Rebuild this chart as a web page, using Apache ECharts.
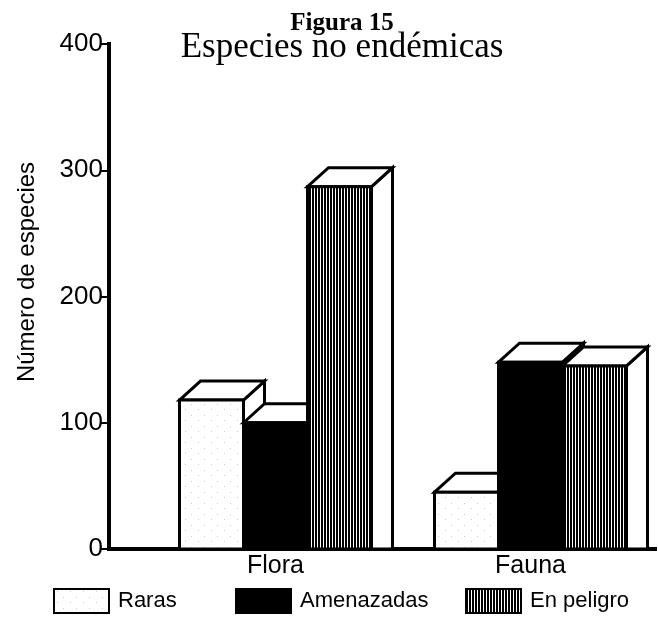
<!DOCTYPE html>
<html>
<head>
<meta charset="utf-8">
<script src="https://cdn.jsdelivr.net/npm/echarts@6/dist/echarts.min.js"></script>
<style>
  html, body { margin: 0; padding: 0; background: #fff; }
  #chart { width: 658px; height: 619px; }
</style>
</head>
<body>
<div id="chart"></div>
<script>
// Data
const categories = ['Flora', 'Fauna'];
const seriesNames = ['Raras', 'Amenazadas', 'En peligro'];
const raras = [118, 45];
const amenazadas = [100, 148];
const enPeligro = [287, 145];
const yTickStep = 100;
const yMax = 400;

const seriesValues = [raras, amenazadas, enPeligro];

// Fill patterns: faint stipple, solid black, vertical hatching
function makePattern(w, h, paint) {
  const c = document.createElement('canvas');
  c.width = w; c.height = h;
  paint(c.getContext('2d'), w, h);
  return c;
}
const stipple = makePattern(13, 11, (ctx, w, h) => {
  ctx.fillStyle = '#fff'; ctx.fillRect(0, 0, w, h);
  ctx.fillStyle = '#cccccc';
  ctx.fillRect(3, 2, 1, 1);
  ctx.fillRect(9, 8, 1, 1);
});
const stripes = makePattern(3, 4, (ctx, w, h) => {
  ctx.fillStyle = '#000'; ctx.fillRect(0, 0, w, h);
  ctx.fillStyle = '#fff'; ctx.fillRect(2, 0, 1, h);
});
const fills = [
  { image: stipple, repeat: 'repeat' },
  '#000',
  { image: stripes, repeat: 'repeat' }
];

// 3D bar geometry
const DEPTH_X = 21;
const DEPTH_Y = 19;
const BAR_FRAC = 0.251;
const EDGE = { stroke: '#000', lineWidth: 3, lineJoin: 'miter' };

function renderBar(params, api) {
  const cat = api.value(0);
  const base = api.coord([cat, 0]);
  const top = api.coord([cat, api.value(1)]);
  const w = api.size([1, 0])[0] * BAR_FRAC;
  const x0 = base[0] - 1.5 * w + params.seriesIndex * w;
  const x1 = x0 + w;
  const yT = top[1];
  const yB = base[1];
  return {
    type: 'group',
    children: [
      {
        type: 'polygon',
        shape: { points: [[x1, yT], [x1 + DEPTH_X, yT - DEPTH_Y], [x1 + DEPTH_X, yB], [x1, yB]] },
        style: Object.assign({ fill: '#fff' }, EDGE)
      },
      {
        type: 'polygon',
        shape: { points: [[x0, yT], [x0 + DEPTH_X, yT - DEPTH_Y], [x1 + DEPTH_X, yT - DEPTH_Y], [x1, yT]] },
        style: Object.assign({ fill: '#fff' }, EDGE)
      },
      {
        type: 'rect',
        shape: { x: x0, y: yT, width: w, height: yB - yT },
        style: Object.assign({ fill: fills[params.seriesIndex] }, EDGE)
      }
    ]
  };
}

const SANS = '"Liberation Sans", Arial, sans-serif';
const SERIF = '"Liberation Serif", "Times New Roman", serif';
const legendLeft = [48, 230, 460];

const chart = echarts.init(document.getElementById('chart'), null, { renderer: 'canvas' });

chart.setOption({
  backgroundColor: '#fff',
  animation: false,
  textStyle: { fontFamily: SANS, color: '#000' },
  grid: [
    { left: 148, right: 0, top: 44, bottom: 70 },
    { left: 109, right: 3, top: 44, bottom: 70 }
  ],
  xAxis: [
    {
      gridIndex: 0,
      type: 'category',
      data: categories,
      axisLine: { show: false },
      axisTick: { show: false },
      axisLabel: { fontFamily: SANS, fontSize: 25, color: '#000', margin: 5 }
    },
    {
      gridIndex: 1,
      type: 'value',
      min: 0,
      max: 1,
      axisLine: { show: true, lineStyle: { color: '#000', width: 4, cap: 'square' } },
      axisTick: { show: false },
      axisLabel: { show: false },
      splitLine: { show: false }
    }
  ],
  yAxis: [
    { gridIndex: 0, type: 'value', min: 0, max: yMax, show: false, splitLine: { show: false } },
    {
      gridIndex: 1,
      type: 'value',
      min: 0,
      max: yMax,
      interval: yTickStep,
      axisLine: { show: true, lineStyle: { color: '#000', width: 4, cap: 'square' } },
      axisTick: { show: true, length: 9, lineStyle: { color: '#000', width: 2 } },
      axisLabel: { fontFamily: SANS, fontSize: 26, color: '#000', margin: 6 },
      splitLine: { show: false }
    }
  ],
  legend: seriesNames.map((name, i) => ({
    data: [name],
    left: legendLeft[i],
    top: 583,
    icon: 'rect',
    itemWidth: 55,
    itemHeight: 24,
    selectedMode: false,
    textStyle: { fontFamily: SANS, fontSize: 22, color: '#000', padding: [0, 0, 0, 4] }
  })),
  graphic: [
    {
      type: 'text', x: 342, y: 11,
      style: { text: 'Figura 15', font: 'bold 25px ' + SERIF, fill: '#000',
               textAlign: 'center', align: 'center', textVerticalAlign: 'top', verticalAlign: 'top' }
    },
    {
      type: 'text', x: 342, y: 30,
      style: { text: 'Especies no endémicas', font: '35px ' + SERIF, fill: '#000',
               textAlign: 'center', align: 'center', textVerticalAlign: 'top', verticalAlign: 'top' }
    },
    {
      type: 'text', x: 27, y: 272, rotation: Math.PI / 2,
      style: { text: 'Número de especies', font: '24px ' + SANS, fill: '#000',
               textAlign: 'center', align: 'center', textVerticalAlign: 'middle', verticalAlign: 'middle' }
    }
  ],
  series: seriesNames.map((name, i) => ({
    type: 'custom',
    name: name,
    xAxisIndex: 0,
    yAxisIndex: 0,
    renderItem: renderBar,
    itemStyle: { color: fills[i], borderColor: '#000', borderWidth: 3 },
    encode: { x: 0, y: 1 },
    data: categories.map((c, j) => [j, seriesValues[i][j]])
  }))
});
</script>
</body>
</html>
